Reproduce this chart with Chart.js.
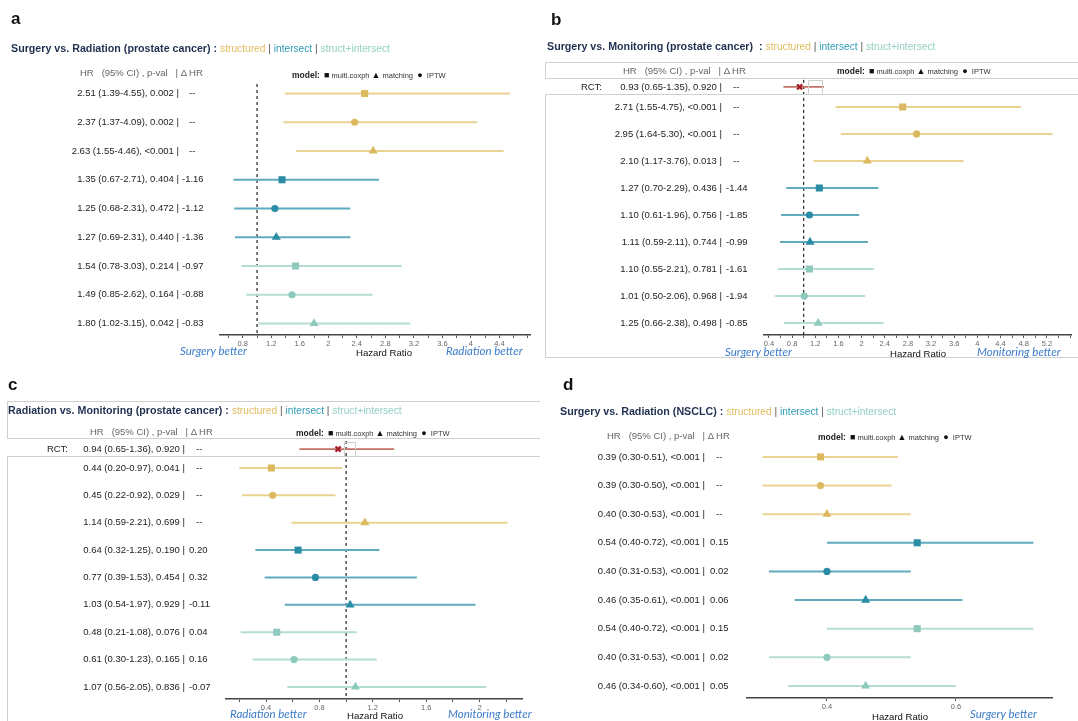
<!DOCTYPE html>
<html>
<head>
<meta charset="utf-8">
<script src="https://cdn.jsdelivr.net/npm/chart.js@4.4.1/dist/chart.umd.min.js"></script>
<style>
  body { margin: 0; width: 1078px; height: 721px; position: relative; overflow: hidden; background: #fff;
         font-family: "Liberation Sans", Arial, sans-serif; }
  .txt { position: absolute; transform: translateY(-50%); white-space: pre; line-height: 1; }
  .letter { font-weight: bold; font-size: 17px; color: #111; }
  .title { font-size: 10.7px; color: #1f3050; }
  .title b { font-size: 10.7px; }
  .s1 { color: #e0bc5e; font-size: 10.2px; }
  .s2 { color: #2f9bb5; font-size: 10.2px; }
  .s3 { color: #93cfc4; font-size: 10.2px; }
  .sep { color: #555; font-size: 10.2px; }
  .head { font-size: 9.5px; color: #666; }
  .legend { font-size: 7.5px; color: #333; }
  .legend b { font-size: 8.5px; color: #222; }
  .legend i { font-style: normal; font-size: 9px; color: #111; }
  .better { font-family: Lato, "Open Sans", sans-serif; font-style: italic; font-size: 11.5px; color: #3d7cc9; }
  .hr { font-size: 9.6px; color: #111; }
  .box { position: absolute; border: 0 solid #cfcfcf; box-sizing: border-box; }
  canvas { position: absolute; }
</style>
</head>
<body>
<canvas id="chartA" width="540" height="362" style="left:0;top:0"></canvas>
<canvas id="chartB" width="538" height="362" style="left:540px;top:0"></canvas>
<canvas id="chartC" width="540" height="359" style="left:0;top:362px"></canvas>
<canvas id="chartD" width="538" height="359" style="left:540px;top:362px"></canvas>
<script>
// groups and models, in row order
const groupNames = ["structured", "intersect", "struct+intersect"];
const modelShapes = ["rect", "circle", "triangle"];
const modelSizes = [5, 3.6, 5.2];

// a: Surgery vs. Radiation (prostate cancer)
const aHR    = [2.51, 2.37, 2.63, 1.35, 1.25, 1.27, 1.54, 1.49, 1.80];
const aLow   = [1.39, 1.37, 1.55, 0.67, 0.68, 0.69, 0.78, 0.85, 1.02];
const aHigh  = [4.55, 4.09, 4.46, 2.71, 2.31, 2.31, 3.03, 2.62, 3.15];
const aPval  = ["0.002", "0.002", "<0.001", "0.404", "0.472", "0.440", "0.214", "0.164", "0.042"];
const aDelta = ["--", "--", "--", "-1.16", "-1.12", "-1.36", "-0.97", "-0.88", "-0.83"];
const aTicks = [0.6, 0.8, 1, 1.2, 1.4, 1.6, 1.8, 2, 2.2, 2.4, 2.6, 2.8, 3, 3.2, 3.4, 3.6, 3.8, 4, 4.2, 4.4, 4.6, 4.8];
const aTickLabels = [0.8, 1.2, 1.6, 2, 2.4, 2.8, 3.2, 3.6, 4, 4.4];

// b: Surgery vs. Monitoring (prostate cancer)
const bRCT   = [0.93, 0.65, 1.35, "0.920"];
const bHR    = [2.71, 2.95, 2.10, 1.27, 1.10, 1.11, 1.10, 1.01, 1.25];
const bLow   = [1.55, 1.64, 1.17, 0.70, 0.61, 0.59, 0.55, 0.50, 0.66];
const bHigh  = [4.75, 5.30, 3.76, 2.29, 1.96, 2.11, 2.21, 2.06, 2.38];
const bPval  = ["<0.001", "<0.001", "0.013", "0.436", "0.756", "0.744", "0.781", "0.968", "0.498"];
const bDelta = ["--", "--", "--", "-1.44", "-1.85", "-0.99", "-1.61", "-1.94", "-0.85"];
const bTicks = [0.4, 0.6, 0.8, 1, 1.2, 1.4, 1.6, 1.8, 2, 2.2, 2.4, 2.6, 2.8, 3, 3.2, 3.4, 3.6, 3.8, 4, 4.2, 4.4, 4.6, 4.8, 5, 5.2, 5.4, 5.6];
const bTickLabels = [0.4, 0.8, 1.2, 1.6, 2, 2.4, 2.8, 3.2, 3.6, 4, 4.4, 4.8, 5.2];

// c: Radiation vs. Monitoring (prostate cancer)
const cRCT   = [0.94, 0.65, 1.36, "0.920"];
const cHR    = [0.44, 0.45, 1.14, 0.64, 0.77, 1.03, 0.48, 0.61, 1.07];
const cLow   = [0.20, 0.22, 0.59, 0.32, 0.39, 0.54, 0.21, 0.30, 0.56];
const cHigh  = [0.97, 0.92, 2.21, 1.25, 1.53, 1.97, 1.08, 1.23, 2.05];
const cPval  = ["0.041", "0.029", "0.699", "0.190", "0.454", "0.929", "0.076", "0.165", "0.836"];
const cDelta = ["--", "--", "--", "0.20", "0.32", "-0.11", "0.04", "0.16", "-0.07"];
const cTicks = [0.2, 0.4, 0.6, 0.8, 1, 1.2, 1.4, 1.6, 1.8, 2, 2.2];
const cTickLabels = [0.4, 0.8, 1.2, 1.6, 2];

// d: Surgery vs. Radiation (NSCLC)
const dHR    = [0.39, 0.39, 0.40, 0.54, 0.40, 0.46, 0.54, 0.40, 0.46];
const dLow   = [0.30, 0.30, 0.30, 0.40, 0.31, 0.35, 0.40, 0.31, 0.34];
const dHigh  = [0.51, 0.50, 0.53, 0.72, 0.53, 0.61, 0.72, 0.53, 0.60];
const dPval  = ["<0.001", "<0.001", "<0.001", "<0.001", "<0.001", "<0.001", "<0.001", "<0.001", "<0.001"];
const dDelta = ["--", "--", "--", "0.15", "0.02", "0.06", "0.15", "0.02", "0.05"];
const dTicks = [0.4, 0.6];
const dTickLabels = [0.4, 0.6];

const groupColors = [
  { mark: "#dcb95e", line: "#ead292" },
  { mark: "#2b8da5", line: "#5faabe" },
  { mark: "#8ecabc", line: "#b4ddd3" }
];

function f2(v) { return v.toFixed(2); }

function addText(html, x, y, cls) {
  const d = document.createElement("div");
  d.className = "txt " + cls;
  d.style.left = x + "px";
  d.style.top = y + "px";
  d.innerHTML = html;
  document.body.appendChild(d);
}

function addBox(x, y, w, h, sides) {
  const d = document.createElement("div");
  d.className = "box";
  Object.assign(d.style, { left: x + "px", top: y + "px", width: w + "px", height: h + "px" });
  sides.split("").forEach(s => {
    const k = { t: "borderTopWidth", b: "borderBottomWidth", l: "borderLeftWidth", r: "borderRightWidth" }[s];
    d.style[k] = "1px";
  });
  document.body.appendChild(d);
}

// draws the "HR (CI), p |  dHR" text next to each row, using the y scale
function labelPlugin(rows, pos) {
  return {
    id: "rowLabels",
    afterDraw(chart) {
      const ctx = chart.ctx, ys = chart.scales.y;
      ctx.save();
      ctx.font = '9.5px "Liberation Sans", Arial, sans-serif';
      ctx.fillStyle = "#222";
      ctx.textBaseline = "middle";
      rows.forEach(r => {
        const py = ys.getPixelForValue(r.y);
        ctx.textAlign = "right";
        ctx.fillText(r.left, pos.bar, py);
        if (r.tag) ctx.fillText(r.tag, pos.tag, py);
        ctx.textAlign = "left";
        ctx.fillText(r.right, r.right === "--" ? pos.dash : pos.delta, py);
      });
      ctx.restore();
    }
  };
}

function makeForest(id, o) {
  const rows = o.hr.map((h, i) => ({
    y: i,
    left: `${f2(h)} (${f2(o.lo[i])}-${f2(o.hi[i])}), ${o.pval[i]} |`,
    right: o.delta[i]
  }));
  const datasets = [];

  if (o.ref) {
    datasets.push({
      data: [{ x: 1, y: o.ref }, { x: 1, y: o.yMax }],
      showLine: true, pointRadius: 0, borderWidth: 1.2, borderColor: "#222",
      borderDash: [3, 3], order: 3
    });
  }

  groupNames.forEach((g, gi) => {
    const idx = [0, 1, 2].map(k => gi * 3 + k);
    const col = groupColors[gi];
    const ci = [];
    idx.forEach(i => { ci.push({ x: o.lo[i], y: i }, { x: o.hi[i], y: i }); });
    datasets.push({
      label: g + " CI", data: ci, showLine: true, pointRadius: 0, borderWidth: 2,
      borderColor: col.line,
      segment: { borderColor: c => (c.p0.parsed.y === c.p1.parsed.y ? col.line : "rgba(0,0,0,0)") },
      order: 2
    });
    datasets.push({
      label: g, data: idx.map(i => ({ x: o.hr[i], y: i })),
      pointStyle: modelShapes, pointRadius: modelSizes,
      backgroundColor: col.mark, borderWidth: 0, order: 0
    });
  });

  if (o.rct) {
    const [h, lo, hi, p] = o.rct;
    rows.push({ y: o.rctY, tag: "RCT:", left: `${f2(h)} (${f2(lo)}-${f2(hi)}), ${p} |`, right: "--" });
    datasets.push({
      label: "RCT CI", data: [{ x: lo, y: o.rctY }, { x: hi, y: o.rctY }],
      showLine: true, pointRadius: 0, borderWidth: 1.6, borderColor: "#c27263", order: 2
    });
    datasets.push({
      label: "RCT", data: [{ x: h, y: o.rctY }], pointStyle: "crossRot", pointRadius: 3.6,
      borderColor: "#a31f2b", borderWidth: 2.2, order: 0
    });
  }

  new Chart(document.getElementById(id), {
    type: "scatter",
    data: { datasets },
    options: {
      responsive: false,
      animation: false,
      events: [],
      layout: { padding: o.pad },
      plugins: { legend: { display: false }, tooltip: { enabled: false } },
      scales: {
        x: {
          type: "linear", min: o.xMin, max: o.xMax,
          afterBuildTicks: s => { s.ticks = o.ticks.map(v => ({ value: v })); },
          afterFit: s => { s.height = 20; },
          grid: { drawOnChartArea: false, drawTicks: true, tickLength: 3, color: "#555" },
          border: { display: true, color: "#444", width: 1.5 },
          ticks: {
            autoSkip: false, maxRotation: 0, padding: 1, color: "#666",
            font: { size: 7.5, family: '"Liberation Sans", Arial' },
            callback: v => (o.tickLabels.some(t => Math.abs(t - v) < 1e-6) ? String(+v.toFixed(1)) : "")
          }
        },
        y: { type: "linear", reverse: true, min: o.yMin, max: o.yMax, display: false }
      }
    },
    plugins: [labelPlugin(rows, o.pos)]
  });
}

makeForest("chartA", {
  hr: aHR, lo: aLow, hi: aHigh, pval: aPval, delta: aDelta,
  xMin: 0.48, xMax: 4.83, yMin: -0.4, yMax: 8.4, ref: -0.33,
  ticks: aTicks, tickLabels: aTickLabels,
  pad: { left: 220, right: 10, top: 82, bottom: 7 },
  pos: { bar: 179, delta: 182, dash: 189 }
});
makeForest("chartB", {
  hr: bHR, lo: bLow, hi: bHigh, pval: bPval, delta: bDelta, rct: bRCT, rctY: -0.74,
  xMin: 0.315, xMax: 5.63, yMin: -1.07, yMax: 8.44, ref: -1.0,
  ticks: bTicks, tickLabels: bTickLabels,
  pad: { left: 224, right: 3, top: 78, bottom: 7 },
  pos: { bar: 182, delta: 186, dash: 193, tag: 62 }
});
makeForest("chartC", {
  hr: cHR, lo: cLow, hi: cHigh, pval: cPval, delta: cDelta, rct: cRCT, rctY: -0.69,
  xMin: 0.1, xMax: 2.318, yMin: -0.985, yMax: 8.44, ref: -0.985,
  ticks: cTicks, tickLabels: cTickLabels,
  pad: { left: 226, right: 18, top: 79, bottom: 2 },
  pos: { bar: 185, delta: 189, dash: 196, tag: 68 }
});
makeForest("chartD", {
  hr: dHR, lo: dLow, hi: dHigh, pval: dPval, delta: dDelta,
  xMin: 0.276, xMax: 0.749, yMin: -0.31, yMax: 8.42,
  ticks: dTicks, tickLabels: dTickLabels,
  pad: { left: 207, right: 26, top: 86, bottom: 3 },
  pos: { bar: 165, delta: 170, dash: 176 }
});

// panel frames
addBox(545, 62, 533, 17, "tlb");
addBox(545, 94, 533, 264, "tlb");
addBox(808, 80, 15, 15, "tlr");
addBox(7, 401, 533, 38, "tlb");
addBox(7, 456, 533, 265, "tl");
addBox(344, 442, 12, 15, "tlr");

// titles, headers, legends, annotations
const legendHtml = "<b>model:</b>  <i>■</i> multi.coxph <i>▲</i> matching  <i>●</i>  IPTW";
const headHtml = "HR   (95% CI) , p-val   | Δ HR";
const subHtml = ' <b>:</b> <span class="s1">structured</span><span class="sep"> | </span><span class="s2">intersect</span><span class="sep"> | </span><span class="s3">struct+intersect</span>';

addText("a", 11, 18, "letter");
addText("<b>Surgery vs. Radiation (prostate cancer)</b>" + subHtml, 11, 49, "title");
addText(headHtml, 80, 73, "head");
addText(legendHtml, 292, 75, "legend");
addText("Surgery better", 180, 351, "better");
addText("Hazard Ratio", 356, 353, "hr");
addText("Radiation better", 446, 351, "better");

addText("b", 551, 19, "letter");
addText("<b>Surgery vs. Monitoring (prostate cancer)</b> " + subHtml, 547, 47, "title");
addText(headHtml, 623, 71, "head");
addText(legendHtml, 837, 71, "legend");
addText("Surgery better", 725, 352, "better");
addText("Hazard Ratio", 890, 354, "hr");
addText("Monitoring better", 977, 352, "better");

addText("c", 8, 384, "letter");
addText("<b>Radiation vs. Monitoring (prostate cancer)</b>" + subHtml, 8, 411, "title");
addText(headHtml, 90, 432, "head");
addText(legendHtml, 296, 433, "legend");
addText("Radiation better", 230, 714, "better");
addText("Hazard Ratio", 347, 716, "hr");
addText("Monitoring better", 448, 714, "better");

addText("d", 563, 384, "letter");
addText("<b>Surgery vs. Radiation (NSCLC)</b>" + subHtml, 560, 412, "title");
addText(headHtml, 607, 436, "head");
addText(legendHtml, 818, 437, "legend");
addText("Hazard Ratio", 872, 717, "hr");
addText("Surgery better", 970, 714, "better");
</script>
</body>
</html>
